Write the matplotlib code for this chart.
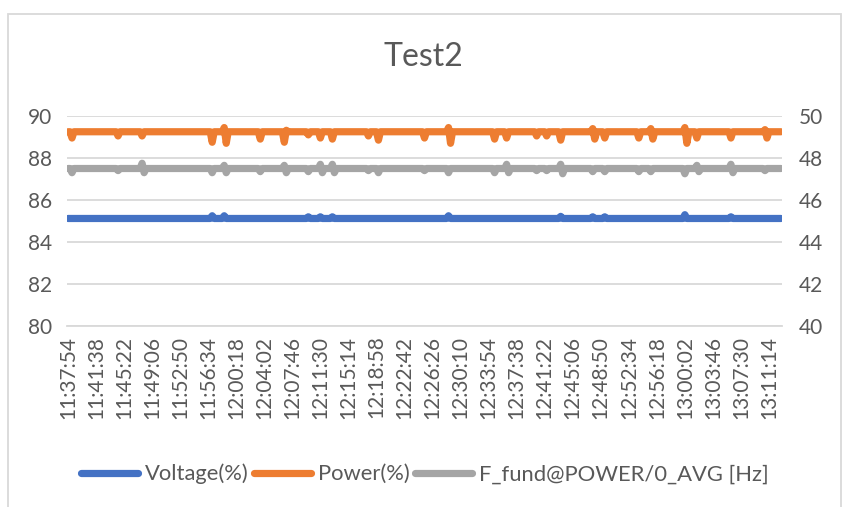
import numpy as np
import matplotlib.pyplot as plt
from matplotlib.patches import Rectangle

plt.rcParams['font.family'] = ['Lato', 'DejaVu Sans']

# amostras a cada 16 s, 14 amostras entre rótulos
n_samples = 357
tick_step = 14
tick_labels = ['11:37:54', '11:41:38', '11:45:22', '11:49:06', '11:52:50', '11:56:34',
               '12:00:18', '12:04:02', '12:07:46', '12:11:30', '12:15:14', '12:18:58',
               '12:22:42', '12:26:26', '12:30:10', '12:33:54', '12:37:38', '12:41:22',
               '12:45:06', '12:48:50', '12:52:34', '12:56:18', '13:00:02', '13:03:46',
               '13:07:30', '13:11:14']

# valores base
voltage_base = 85.12
power_base = 89.25
freq_base = 47.5

# picos: índice da amostra -> valor
voltage_spike_idx = [72, 78, 120, 126, 132, 190, 246, 262, 268, 308, 331]
voltage_spike_val = [85.25, 85.25, 85.2, 85.2, 85.2, 85.25, 85.22, 85.2, 85.2, 85.3, 85.2]

power_spike_idx = [2, 25, 37, 72, 78, 79, 96, 108, 109, 120, 126, 132, 150, 155, 178,
                   190, 191, 213, 219, 234, 239, 246, 262, 263, 268, 285, 291, 292,
                   308, 309, 314, 331, 348, 349]
power_spike_val = [88.95, 89.05, 89.05, 88.75, 89.45, 88.7, 88.9, 88.75, 89.32, 89.1,
                   88.95, 88.9, 89.05, 88.85, 88.95, 89.45, 88.7, 88.9, 88.95, 89.05,
                   89.05, 88.85, 89.4, 88.9, 88.95, 88.95, 89.4, 88.9, 89.45, 88.7,
                   88.95, 88.95, 89.35, 88.95]

freq_spike_idx = [2, 25, 37, 38, 72, 78, 79, 96, 108, 109, 120, 126, 127, 132, 133,
                  150, 155, 178, 190, 213, 219, 220, 234, 239, 246, 247, 262, 268,
                  285, 291, 308, 314, 315, 331, 332, 348]
freq_spike_val = [47.3, 47.4, 47.75, 47.3, 47.3, 47.65, 47.3, 47.35, 47.65, 47.3,
                  47.35, 47.7, 47.3, 47.7, 47.3, 47.4, 47.3, 47.4, 47.3, 47.3,
                  47.7, 47.3, 47.4, 47.4, 47.7, 47.25, 47.35, 47.35, 47.35, 47.35,
                  47.25, 47.65, 47.35, 47.7, 47.3, 47.4]


def build_series(base, idx, val):
    y = np.full(n_samples, base)
    y[idx] = val
    return y


voltage = build_series(voltage_base, voltage_spike_idx, voltage_spike_val)
power = build_series(power_base, power_spike_idx, power_spike_val)
freq = build_series(freq_base, freq_spike_idx, freq_spike_val)
x = np.arange(n_samples)

text_color = '#595959'
grid_color = '#d9d9d9'

fig = plt.figure(figsize=(8.43, 5.07), dpi=100)
fig.patches.append(Rectangle((8 / 843, -0.1), 833 / 843, 1.1 - 14 / 507,
                             transform=fig.transFigure, fill=False,
                             edgecolor=grid_color, linewidth=1.3))

ax = fig.add_axes([67 / 843, 1 - 326 / 507, 715 / 843, 210 / 507])
ax2 = ax.twinx()

lw = 5.2
l1, = ax.plot(x, voltage, color='#4472c4', lw=lw, solid_capstyle='round',
              solid_joinstyle='round', label='Voltage(%)')
l2, = ax.plot(x, power, color='#ed7d31', lw=lw, solid_capstyle='round',
              solid_joinstyle='round', label='Power(%)')
l3, = ax2.plot(x, freq, color='#a5a5a5', lw=lw, solid_capstyle='round',
               solid_joinstyle='round', label='F_fund@POWER/0_AVG [Hz]')

ax.set_ylim(80, 90)
ax.set_yticks(range(80, 91, 2))
ax2.set_ylim(40, 50)
ax2.set_yticks(range(40, 51, 2))
ax.set_xlim(-0.5, n_samples - 0.5)
ax.set_xticks(np.arange(len(tick_labels)) * tick_step)
ax.set_xticklabels(tick_labels, rotation=90)

ax.grid(axis='y', color=grid_color, lw=1.3)
ax.set_axisbelow(True)
for a in (ax, ax2):
    for s in a.spines.values():
        s.set_visible(False)
ax.spines['bottom'].set_visible(True)
ax.spines['bottom'].set_color(grid_color)
ax.spines['bottom'].set_linewidth(1.3)

ax.tick_params(axis='y', length=0, pad=11, labelsize=15, labelcolor=text_color)
ax2.tick_params(axis='y', length=0, pad=12, labelsize=15, labelcolor=text_color)
ax.tick_params(axis='x', length=0, pad=7, labelsize=15, labelcolor=text_color)

fig.text(423 / 843, 1 - 57 / 507, 'Test2', ha='center', va='center',
         fontsize=23, color=text_color)

leg = fig.legend(handles=[l1, l2, l3], loc='center', bbox_to_anchor=(425 / 843, 1 - 474 / 507),
                 ncol=3, frameon=False, fontsize=15.8, handlelength=2.6,
                 handletextpad=0.3, columnspacing=0.25, labelcolor=text_color)

fig.savefig('out.png', dpi=100)
